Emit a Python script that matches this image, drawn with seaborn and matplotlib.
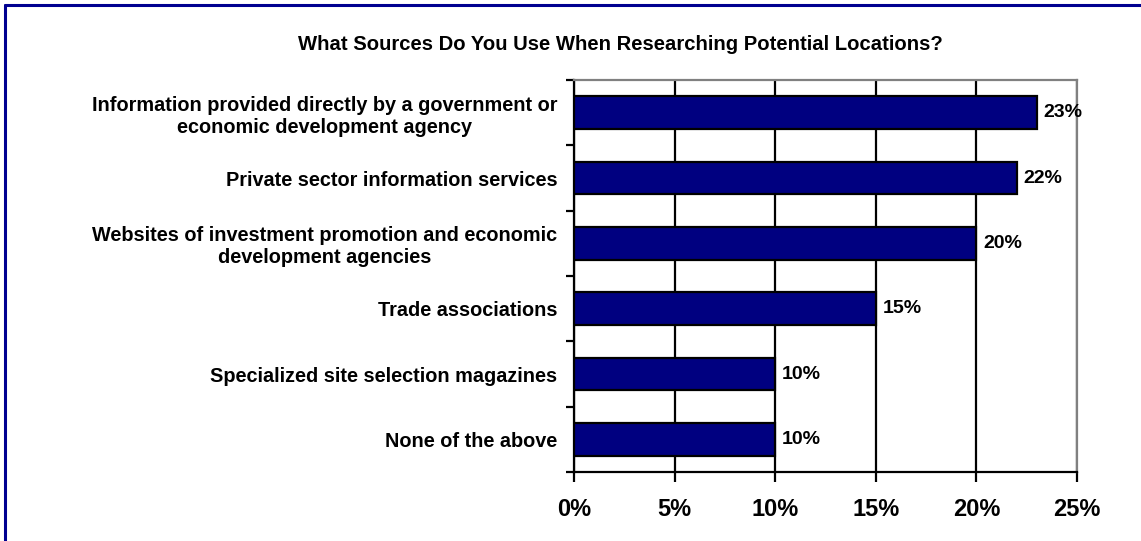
import matplotlib
matplotlib.use("Agg")
import matplotlib.pyplot as plt
from matplotlib.lines import Line2D
from matplotlib.ticker import FixedLocator, FuncFormatter
import numpy as np
import pandas as pd
import seaborn as sns

# Survey responses
sources = [
    "Information provided directly by a government or\neconomic development agency",
    "Private sector information services",
    "Websites of investment promotion and economic\ndevelopment agencies",
    "Trade associations",
    "Specialized site selection magazines",
    "None of the above",
]
shares = [23, 22, 20, 15, 10, 10]
x_ticks = [0, 5, 10, 15, 20, 25]
title = "What Sources Do You Use When Researching Potential Locations?"

sns.set_theme(style="white")
plt.rcParams["font.family"] = ["Liberation Sans", "DejaVu Sans"]
plt.rcParams["font.weight"] = "bold"
for key in ["text.color", "axes.labelcolor", "xtick.color", "ytick.color"]:
    plt.rcParams[key] = "black"

W, H = 1141, 541
fig = plt.figure(figsize=(W / 100, H / 100), dpi=100)
fig.patch.set_facecolor("white")

ax = fig.add_axes([574 / W, 1 - 472 / H, (1077 - 574) / W, (472 - 80) / H])

df = pd.DataFrame({"source": sources, "share": shares})
sns.barplot(data=df, x="share", y="source", orient="h", color="#000080",
            saturation=1, width=0.5, edgecolor="black", linewidth=1.6, ax=ax,
            zorder=3)

ax.set_xlim(0, 25)
ax.set_ylim(len(sources) - 0.5, -0.5)
ax.set_xlabel("")
ax.set_ylabel("")

# x axis
ax.xaxis.set_major_locator(FixedLocator(x_ticks))
ax.xaxis.set_major_formatter(FuncFormatter(lambda v, p: f"{v:.0f}%"))
ax.tick_params(axis="x", which="major", direction="out", length=7, width=1.6,
               color="black", labelcolor="black", labelsize=17, pad=12,
               bottom=True)
for lbl in ax.get_xticklabels():
    lbl.set_fontweight("bold")
ax.grid(axis="x", color="black", linewidth=1.6, zorder=1)
ax.grid(axis="y", visible=False)

# y axis: labels at centres, tick marks at category boundaries
ax.set_yticks(np.arange(len(sources)))
ax.set_yticklabels(sources, fontsize=14.3, fontweight="bold", ha="right",
                   multialignment="center", color="black")
ax.tick_params(axis="y", which="major", length=0, pad=12)
ax.set_yticks(np.arange(-0.5, len(sources)), minor=True)
ax.tick_params(axis="y", which="minor", direction="out", length=6, width=1.6,
               color="black", left=True)

for side in ["left", "bottom"]:
    ax.spines[side].set_color("black")
    ax.spines[side].set_linewidth(1.6)
for side in ["top", "right"]:
    ax.spines[side].set_color("#808080")
    ax.spines[side].set_linewidth(1.6)
    ax.spines[side].set_visible(True)

# value labels
for i, v in enumerate(shares):
    ax.text(v + 0.35, i, f"{v}%", va="center", ha="left", fontsize=14,
            fontweight="bold", color="black", zorder=4)

fig.text(620 / W, 1 - 45 / H, title, ha="center", va="center", fontsize=14.6,
         fontweight="bold", color="black")

# frame around the chart
fig.add_artist(Line2D([5 / W, 1], [1 - 5 / H, 1 - 5 / H], color="#000090",
                      linewidth=2.2, transform=fig.transFigure))
fig.add_artist(Line2D([5 / W, 5 / W], [0, 1 - 5 / H], color="#000090",
                      linewidth=2.2, transform=fig.transFigure))

fig.savefig("out.png", dpi=100, facecolor="white")
